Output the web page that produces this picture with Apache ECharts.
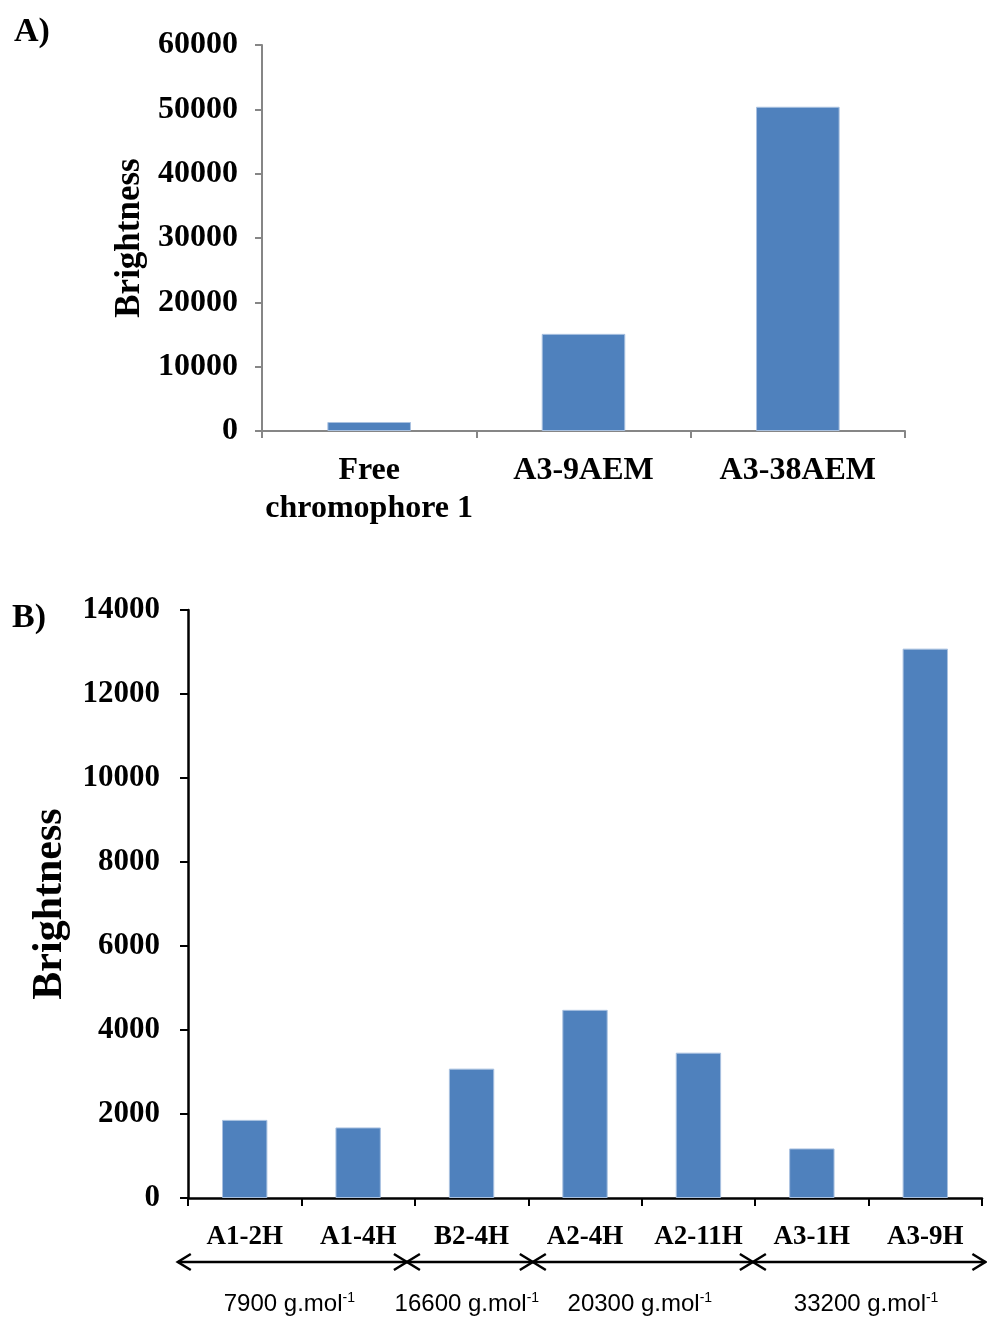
<!DOCTYPE html>
<html>
<head>
<meta charset="utf-8">
<script src="https://cdn.jsdelivr.net/npm/echarts@6/dist/echarts.min.js"></script>
<style>
html,body{margin:0;padding:0;background:#fff;}
#chart{width:987px;height:1317px;}
</style>
</head>
<body>
<div id="chart"></div>
<script>
// ---- Data ----
const topCategories = ['Free\nchromophore 1', 'A3-9AEM', 'A3-38AEM'];
const topValues = [1400, 15100, 50400];
const bottomCategories = ['A1-2H', 'A1-4H', 'B2-4H', 'A2-4H', 'A2-11H', 'A3-1H', 'A3-9H'];
const bottomValues = [1860, 1680, 3080, 4480, 3460, 1180, 13080];
// molar-mass groups: start / end in category units along the lower axis
const massLabels = ['7900', '16600', '20300', '33200'];
const massStart = [-0.09, 1.93, 3.04, 4.98];
const massEnd = [1.93, 3.04, 4.98, 7.03];

const SERIF = '"Liberation Serif", "Times New Roman", serif';
const SANS = '"Liberation Sans", Arial, sans-serif';
const BAR = '#4F81BD';
const plain = v => String(v);

const chart = echarts.init(document.getElementById('chart'));

const option = {
  backgroundColor: '#fff',
  animation: false,
  title: [
    { text: 'A)', left: 9, top: 10, textStyle: { fontFamily: SERIF, fontWeight: 'bold', fontSize: 34, color: '#000' } },
    { text: 'B)', left: 7, top: 596, textStyle: { fontFamily: SERIF, fontWeight: 'bold', fontSize: 34, color: '#000' } }
  ],
  grid: [
    { left: 262, right: 82, top: 45, height: 386 },
    { left: 188, right: 5, top: 610, height: 588 }
  ],
  xAxis: [
    {
      type: 'category', gridIndex: 0, data: topCategories,
      axisLine: { lineStyle: { color: '#868686', width: 2 } },
      axisTick: { show: true, length: 7, lineStyle: { color: '#868686', width: 2 } },
      axisLabel: { fontFamily: SERIF, fontWeight: 'bold', fontSize: 32, color: '#000', margin: 21, lineHeight: 38, interval: 0 }
    },
    {
      type: 'category', gridIndex: 1, data: bottomCategories,
      axisLine: { lineStyle: { color: '#000', width: 2.5 } },
      axisTick: { show: true, length: 8, lineStyle: { color: '#000', width: 2 } },
      axisLabel: { fontFamily: SERIF, fontWeight: 'bold', fontSize: 27, color: '#000', margin: 26, interval: 0 }
    },
    { type: 'value', gridIndex: 1, min: 0, max: 7, show: false }
  ],
  yAxis: [
    {
      type: 'value', gridIndex: 0, min: 0, max: 60000, interval: 10000,
      name: 'Brightness', nameLocation: 'middle', nameGap: 92, nameRotate: 90,
      nameTextStyle: { fontFamily: SERIF, fontWeight: 'bold', fontSize: 35, color: '#000' },
      axisLine: { show: true, lineStyle: { color: '#868686', width: 2 } },
      axisTick: { show: true, length: 7, lineStyle: { color: '#868686', width: 2 } },
      splitLine: { show: false },
      axisLabel: { fontFamily: SERIF, fontWeight: 'bold', fontSize: 32, color: '#000', margin: 24, formatter: plain }
    },
    {
      type: 'value', gridIndex: 1, min: 0, max: 14000, interval: 2000,
      name: 'Brightness', nameLocation: 'middle', nameGap: 90, nameRotate: 90,
      nameTextStyle: { fontFamily: SERIF, fontWeight: 'bold', fontSize: 42, color: '#000' },
      axisLine: { show: true, lineStyle: { color: '#000', width: 2.5 } },
      axisTick: { show: true, length: 8, lineStyle: { color: '#000', width: 2 } },
      splitLine: { show: false },
      axisLabel: { fontFamily: SERIF, fontWeight: 'bold', fontSize: 31, color: '#000', margin: 28, formatter: plain }
    }
  ],
  series: [
    {
      type: 'bar', xAxisIndex: 0, yAxisIndex: 0, data: topValues, barWidth: '39%',
      itemStyle: { color: BAR, borderColor: '#a9c1e0', borderWidth: 1 }
    },
    {
      type: 'bar', xAxisIndex: 1, yAxisIndex: 1, data: bottomValues, barWidth: '40%',
      itemStyle: { color: BAR, borderColor: '#a9c1e0', borderWidth: 1 }
    },
    {
      type: 'custom', xAxisIndex: 2, yAxisIndex: 1, clip: false, silent: true,
      data: massLabels.map((m, i) => [massStart[i], massEnd[i], i]),
      renderItem: function (params, api) {
        const x1 = api.coord([api.value(0), 0])[0];
        const x2 = api.coord([api.value(1), 0])[0];
        const y0 = api.coord([0, 0])[1];
        const y = y0 + 64;
        const h = 8, w = 13;
        const lineStyle = { stroke: '#000', lineWidth: 2.5, fill: null };
        const idx = api.value(2);
        return {
          type: 'group',
          children: [
            { type: 'line', shape: { x1: x1, y1: y, x2: x2, y2: y }, style: lineStyle },
            { type: 'polyline', shape: { points: [[x1 + w, y - h], [x1, y], [x1 + w, y + h]] }, style: lineStyle },
            { type: 'polyline', shape: { points: [[x2 - w, y - h], [x2, y], [x2 - w, y + h]] }, style: lineStyle },
            {
              type: 'text',
              style: {
                text: '{n|' + massLabels[idx] + ' g.mol}{s|-1}',
                x: (x1 + x2) / 2 - 3, y: y0 + 106,
                align: 'center', verticalAlign: 'middle',
                rich: {
                  n: { fontFamily: SANS, fontSize: 24, fill: '#000', color: '#000' },
                  s: { fontFamily: SANS, fontSize: 14, fill: '#000', color: '#000', padding: [0, 0, 12, 0] }
                }
              }
            }
          ]
        };
      }
    }
  ]
};
chart.setOption(option);
</script>
</body>
</html>
